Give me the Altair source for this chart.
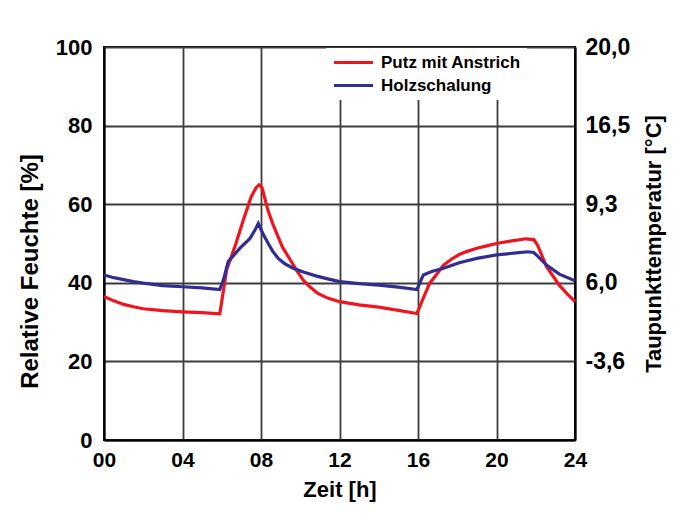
import altair as alt
import pandas as pd

# Putz mit Anstrich (red)
red_h = [0, 0.5, 1, 1.5, 2, 3, 4, 5, 5.9, 6.25, 6.67, 7.1, 7.5, 7.75, 7.9, 8.05,
         8.35, 8.6, 8.8, 9.1, 9.5, 9.8, 10.15, 10.5, 10.9, 11.4, 12, 13, 14, 15,
         15.95, 16.3, 16.6, 17.0, 17.3, 17.7, 18.1, 18.5, 19, 19.5, 20, 20.7, 21.5,
         21.9, 22.1, 22.35, 22.55, 23.2, 23.6, 24]
red_v = [36.5, 35.4, 34.5, 33.9, 33.4, 32.9, 32.6, 32.4, 32.1, 43.3, 49.2, 56.0,
         61.9, 64.2, 64.9, 64.3, 58.5, 55.0, 52.6, 49.0, 45.8, 43.3, 40.7, 38.9,
         37.3, 36.1, 35.2, 34.4, 33.8, 33.0, 32.2, 36.5, 39.9, 42.5, 44.5, 46.0,
         47.2, 48.0, 48.8, 49.4, 50.0, 50.6, 51.2, 51.0, 49.5, 46.5, 44.1, 39.4,
         37.2, 35.2]

# Holzschalung (blue)
blue_h = [0, 0.5, 1, 1.5, 2, 3, 4, 5, 5.9, 6.1, 6.33, 6.93, 7.44, 7.7, 7.86, 8.1,
          8.37, 8.6, 8.88, 9.2, 9.64, 10.2, 10.84, 11.4, 12, 13, 14, 15, 15.95,
          16.27, 16.7, 17.3, 18.1, 19, 20, 21, 21.6, 21.9, 22.2, 22.55, 23.2, 24]
blue_v = [42.0, 41.3, 40.8, 40.3, 39.9, 39.3, 39.0, 38.7, 38.3, 41.0, 45.4, 48.8,
          51.3, 53.5, 55.1, 52.5, 50.0, 48.0, 46.2, 44.9, 43.7, 42.7, 41.7, 41.0,
          40.3, 39.8, 39.4, 38.9, 38.3, 42.0, 42.9, 43.7, 45.1, 46.2, 47.1, 47.6,
          47.9, 47.7, 46.3, 44.5, 42.2, 40.5]

series_names = ["Putz mit Anstrich", "Holzschalung"]
series_colors = ["#f0141e", "#322d91"]

x_ticks = [0, 4, 8, 12, 16, 20, 24]
left_ticks = [0, 20, 40, 60, 80, 100]
right_ticks = [20, 40, 60, 80, 100]
right_labels = ["-3,6", "6,0", "9,3", "16,5", "20,0"]

df = pd.concat([
    pd.DataFrame({"h": red_h, "v": red_v, "s": series_names[0]}),
    pd.DataFrame({"h": blue_h, "v": blue_v, "s": series_names[1]}),
], ignore_index=True)

FONT = "Liberation Sans"

label_expr = " : ".join(
    f"datum.value == {t} ? '{l}'" for t, l in zip(right_ticks, right_labels)
) + " : ''"

xenc = alt.X("h:Q", scale=alt.Scale(domain=[0, 24], nice=False),
             axis=alt.Axis(values=x_ticks, title="Zeit [h]",
                           labelExpr="datum.value < 10 ? '0' + datum.value : '' + datum.value",
                           labelFlush=False, labelFontSize=21, titleFontSize=22,
                           labelPadding=9, titlePadding=9, ticks=False,
                           grid=True))

lines = alt.Chart(df).mark_line(strokeWidth=3.2).encode(
    x=xenc,
    y=alt.Y("v:Q", scale=alt.Scale(domain=[0, 100], nice=False),
            axis=alt.Axis(values=left_ticks, title="Relative Feuchte [%]",
                          labelFontSize=22, titleFontSize=24, titleY=224,
                          labelPadding=12, titlePadding=13, ticks=False, grid=True)),
    color=alt.Color("s:N", scale=alt.Scale(domain=series_names, range=series_colors),
                    legend=alt.Legend(orient="none", legendX=222, legendY=1,
                                      title=None, fillColor="white", padding=6,
                                      symbolType="M-1,0H5", symbolStrokeWidth=3,
                                      symbolSize=169, labelFontSize=17,
                                      labelFont=FONT, labelFontWeight="bold",
                                      labelColor="black", labelOffset=32,
                                      rowPadding=5)),
    detail="s:N",
)

right = alt.Chart(df).mark_line(opacity=0).encode(
    x=alt.X("h:Q", scale=alt.Scale(domain=[0, 24], nice=False)),
    y=alt.Y("v:Q", scale=alt.Scale(domain=[0, 100], nice=False),
            axis=alt.Axis(orient="right", values=right_ticks, labelExpr=label_expr,
                          title="Taupunkttemperatur [°C]", titleAngle=270,
                          titleBaseline="top",
                          labelFontSize=23, titleFontSize=22,
                          labelPadding=10, titlePadding=14, ticks=False, grid=False)),
)

chart = alt.layer(lines, right).resolve_scale(y="independent").properties(
    width=471, height=393,
    autosize=alt.AutoSizeParams(type="none"),
    padding={"left": 96, "top": 39, "right": 96, "bottom": 70},
    background="white",
).configure_view(stroke="black", strokeWidth=2).configure_axis(
    labelFont=FONT, labelFontWeight="bold", labelColor="black",
    titleFont=FONT, titleFontWeight="bold", titleColor="black",
    domainColor="black", domainWidth=2,
    gridColor="#3c3c3c", gridWidth=1.8, gridOpacity=1,
)

chart.save("out.html", embed_options={"renderer": "svg", "actions": False})
